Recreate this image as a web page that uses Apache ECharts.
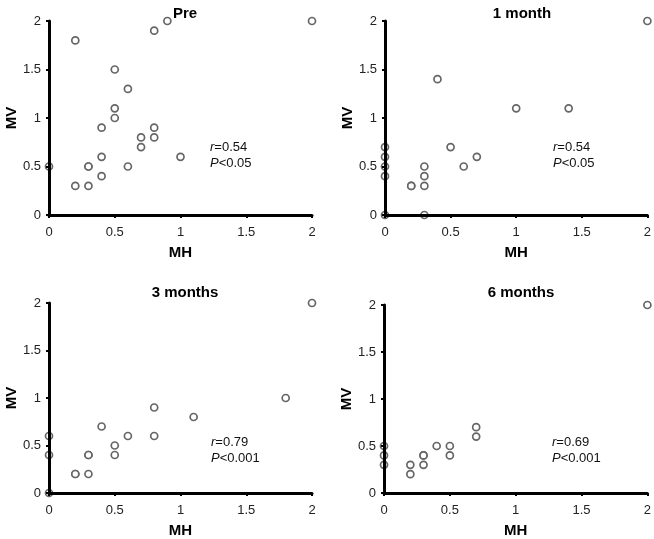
<!DOCTYPE html>
<html>
<head>
<meta charset="UTF-8">
<title>MV vs MH</title>
<script src="https://cdn.jsdelivr.net/npm/echarts@6/dist/echarts.min.js"></script>
<style>
  html, body { margin: 0; padding: 0; background: #fff; }
  #main { width: 654px; height: 539px; }
</style>
</head>
<body>
<div id="main"></div>
<script>
// [MH, MV] pairs
var prePts = [[0, 0.5], [0.2, 1.8], [0.2, 0.3], [0.3, 0.5], [0.3, 0.5], [0.3, 0.3], [0.4, 0.9], [0.4, 0.6], [0.4, 0.4],
  [0.5, 1.5], [0.5, 1.1], [0.5, 1.0], [0.6, 1.3], [0.6, 0.5], [0.7, 0.8], [0.7, 0.7], [0.8, 1.9], [0.8, 0.9],
  [0.8, 0.8], [0.9, 2.0], [1.0, 0.6], [2, 2]];
var m1Pts = [[0, 0], [0, 0.4], [0, 0.5], [0, 0.6], [0, 0.7], [0.2, 0.3], [0.2, 0.3], [0.3, 0], [0.3, 0.3], [0.3, 0.4],
  [0.3, 0.5], [0.4, 1.4], [0.5, 0.7], [0.6, 0.5], [0.7, 0.6], [1.0, 1.1], [1.4, 1.1], [2, 2]];
var m3Pts = [[0, 0], [0, 0.4], [0, 0.6], [0.2, 0.2], [0.2, 0.2], [0.3, 0.2], [0.3, 0.4], [0.3, 0.4], [0.4, 0.7],
  [0.5, 0.5], [0.5, 0.4], [0.6, 0.6], [0.8, 0.9], [0.8, 0.6], [1.1, 0.8], [1.8, 1.0], [2, 2]];
var m6Pts = [[0, 0.3], [0, 0.4], [0, 0.5], [0.2, 0.3], [0.2, 0.2], [0.3, 0.4], [0.3, 0.4], [0.3, 0.3], [0.4, 0.5],
  [0.5, 0.5], [0.5, 0.4], [0.7, 0.7], [0.7, 0.6], [2, 2]];

var panelTitles = ['Pre', '1 month', '3 months', '6 months'];
var rValues = ['0.54', '0.54', '0.79', '0.69'];
var pValues = ['<0.05', '<0.05', '<0.001', '<0.001'];
var allPts = [prePts, m1Pts, m3Pts, m6Pts];

var grids = [
  { left: 49, right: 342, top: 21, bottom: 324 },
  { left: 385, right: 5, top: 21, bottom: 324 },
  { left: 49, right: 342, top: 303, bottom: 42 },
  { left: 384, right: 5, top: 305, bottom: 41 }
];
// where the title and the r / P note sit in each panel
var titlePos = [[180, 1], [517, 1], [180, 280], [516, 280]];
var notePos = [[210, 139], [553, 139], [211, 434], [552, 434]];

var myChart = echarts.init(document.getElementById('main'));

var font = 'Liberation Sans, Arial';
var axisBase = {
  type: 'value',
  min: 0,
  max: 2,
  interval: 0.5,
  z: 5,
  axisLine: { show: true, onZero: false, lineStyle: { color: '#000', width: 3 } },
  axisTick: { show: true, length: 3, lineStyle: { color: '#000', width: 2 } },
  splitLine: { show: false },
  axisLabel: { color: '#222', fontSize: 13, fontFamily: font },
  nameLocation: 'middle',
  nameTextStyle: { color: '#000', fontSize: 15, fontWeight: 'bold', fontFamily: font }
};

var xAxes = [], yAxes = [], series = [], titles = [], graphics = [];
grids.forEach(function (g, i) {
  xAxes.push(Object.assign({}, axisBase, {
    gridIndex: i, name: 'MH', nameGap: 30,
    axisLabel: Object.assign({}, axisBase.axisLabel, { margin: 11 })
  }));
  yAxes.push(Object.assign({}, axisBase, {
    gridIndex: i, name: 'MV', nameGap: 27, nameRotate: 90,
    axisLabel: Object.assign({}, axisBase.axisLabel, { margin: 8 })
  }));
  series.push({
    type: 'scatter',
    xAxisIndex: i,
    yAxisIndex: i,
    symbol: 'circle',
    symbolSize: 7,
    z: 2,
    itemStyle: { color: '#fff', borderColor: '#666', borderWidth: 1.7, opacity: 1 },
    data: allPts[i]
  });
  titles.push({
    text: panelTitles[i],
    left: titlePos[i][0],
    top: titlePos[i][1],
    textAlign: 'center',
    textStyle: { fontSize: 15, fontWeight: 'bold', color: '#000', fontFamily: font }
  });
  graphics.push({
    type: 'text',
    left: notePos[i][0],
    top: notePos[i][1],
    style: {
      text: '{i|r}=' + rValues[i] + '\n{i|P}' + pValues[i],
      fill: '#111',
      fontSize: 13,
      lineHeight: 16,
      fontFamily: font,
      rich: { i: { fontStyle: 'italic', fontSize: 13, fontFamily: font } }
    }
  });
});

var option = {
  backgroundColor: '#fff',
  animation: false,
  title: titles,
  grid: grids,
  xAxis: xAxes,
  yAxis: yAxes,
  series: series,
  graphic: graphics
};
myChart.setOption(option);
</script>
</body>
</html>
